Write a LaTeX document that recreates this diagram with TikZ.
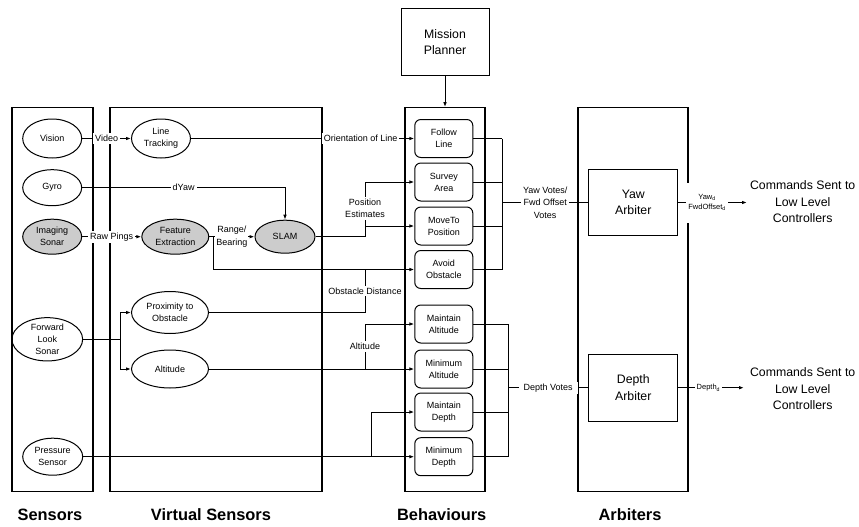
\documentclass[tikz,border=0pt]{standalone}
\usepackage{fontspec}
\setmainfont{Liberation Sans}
\usetikzlibrary{shapes.geometric,arrows.meta,calc}

\begin{document}
\begin{tikzpicture}[x=1pt,y=-1pt,
  colbox/.style={draw,line width=1.1pt,minimum width=#1,minimum height=384,inner sep=0pt},
  sens/.style={ellipse,draw,line width=1pt,inner sep=0pt,align=center,
    font=\fontsize{9}{12}\selectfont},
  sensgray/.style={sens,fill=black!20},
  behbox/.style={draw,line width=1pt,rounded corners=6pt,minimum width=58,
    minimum height=38,inner sep=0pt,align=center,font=\fontsize{9}{12}\selectfont},
  bigbox/.style={draw,line width=1pt,minimum width=88.7,minimum height=66,
    inner sep=0pt,align=center,font=\fontsize{12.3}{16.4}\selectfont},
  conn/.style={line width=1pt},
  arr/.style={conn,-{Latex[length=5pt,width=3.6pt]}},
  lab/.style={fill=white,inner sep=2pt,align=center,font=\fontsize{9}{12.3}\selectfont},
  title/.style={font=\fontsize{16.4}{20}\selectfont\bfseries},
  cmd/.style={align=center,font=\fontsize{12.3}{16.6}\selectfont}]

\fill[white] (0,0) rectangle (859,527);
\useasboundingbox (0,0) rectangle (859,527);

% column frames
\node[colbox=81]  (senscol) at (52.5,299.7) {};
\node[colbox=212] (virtcol) at (216,299.7) {};
\node[colbox=80]  (behcol)  at (445,299.7) {};
\node[colbox=110] (arbcol)  at (633,299.7) {};

% column titles
\node[title] (tsens) at (50,515) {Sensors};
\node[title] (tvirt) at (211,515) {Virtual Sensors};
\node[title] (tbeh)  at (441.7,515) {Behaviours};
\node[title] (tarb)  at (630,515) {Arbiters};

% mission planner
\node[bigbox,minimum width=88] (mp) at (445,42) {Mission\\Planner};

% sensors
\node[sens,minimum width=59,minimum height=39] (vision) at (52.2,138.5) {Vision};
\node[sens,minimum width=59,minimum height=36] (gyro)   at (52.2,187.7) {Gyro};
\node[sensgray,minimum width=59,minimum height=35] (isonar) at (52.2,236.7) {Imaging\\Sonar};
\node[sens,minimum width=70.7,minimum height=38] (fls) at (47.3,339.3) {Forward\\Look\\Sonar};
\node[sens,minimum width=60,minimum height=37] (ps) at (52.7,456.7) {Pressure\\Sensor};

% virtual sensors
\node[sens,minimum width=59,minimum height=39] (lt) at (161,138.5) {Line\\Tracking};
\node[sensgray,minimum width=67,minimum height=35] (fe) at (175.3,236.7) {Feature\\Extraction};
\node[sensgray,minimum width=60,minimum height=33] (slam) at (285,236.7) {SLAM};
\node[sens,minimum width=77,minimum height=42] (prox) at (170,312.5) {Proximity to\\Obstacle};
\node[sens,minimum width=77,minimum height=38] (alt) at (170,369) {Altitude};

% behaviours
\node[behbox] (fl)    at (443.8,138.5) {Follow\\Line};
\node[behbox] (sa)    at (443.8,182)   {Survey\\Area};
\node[behbox] (mt)    at (443.8,226)   {MoveTo\\Position};
\node[behbox] (ao)    at (443.8,269.5) {Avoid\\Obstacle};
\node[behbox] (maina) at (443.8,324)   {Maintain\\Altitude};
\node[behbox] (mina)  at (443.8,369)   {Minimum\\Altitude};
\node[behbox] (maind) at (443.8,412)   {Maintain\\Depth};
\node[behbox] (mind)  at (443.8,456.7) {Minimum\\Depth};

% arbiters
\node[bigbox] (ya) at (633.3,202.5) {Yaw\\Arbiter};
\node[bigbox,minimum height=67] (da) at (633.3,387.7) {Depth\\Arbiter};

% outputs
\node[cmd] (cmd1) at (802.7,202) {Commands Sent to\\Low Level\\Controllers};
\node[cmd] (cmd2) at (802.7,388.6) {Commands Sent to\\Low Level\\Controllers};
\coordinate (yout) at (747,202.5);
\coordinate (dout) at (744,387.7);

% junction columns
\coordinate (jf) at (120,0);
\coordinate (jx) at (365,0);
\coordinate (jd) at (371,0);
\coordinate (yb) at (502,0);
\coordinate (db) at (508,0);

% mission planner to behaviours
\draw[arr] (mp.south) -- (behcol.north);

% sensor links
\draw[arr] (vision.east) -- node[lab]{Video} (lt.west);
\draw[arr] (gyro.east) -| node[lab,pos=0.25]{dYaw} (slam.north);
\draw[arr] (isonar.east) -- node[lab]{Raw Pings} (fe.west);
\draw[arr] (fe.east) -- node[lab,inner sep=1pt]{Range/\\Bearing} (slam.west);
\draw[arr] (fe.east) -- ++(4,0) |- (ao.west);
\draw[conn] (prox.east) -| node[lab,pos=0.75]{Obstacle Distance} (ao.west -| jx);
\draw[arr] (lt.east) -- node[lab,pos=0.76]{Orientation of Line} (fl.west);
\draw[arr] (slam.east) -| (mt.west -| jx) -- (mt.west);
\draw[arr] (mt.west -| jx) -- node[lab,pos=0.4]{Position\\Estimates} (sa.west -| jx) -- (sa.west);
\draw[arr] (fls.east) -- (fls.east -| jf) |- (prox.west);
\draw[arr] (fls.east -| jf) |- (alt.west);
\draw[arr] (alt.east) -- (mina.west);
\draw[arr] (mina.west -| jx) -- node[lab]{Altitude} (maina.west -| jx) -- (maina.west);
\draw[arr] (ps.east) -- (mind.west);
\draw[arr] (mind.west -| jd) |- (maind.west);

% yaw votes
\foreach \b in {fl,sa,mt,ao} \draw[conn] (\b.east) -- (\b.east -| yb);
\draw[conn] (fl.east -| yb) -- (ao.east -| yb);
\draw[conn] (ya.west -| yb) -- node[lab]{Yaw Votes/\\Fwd Offset\\Votes} (ya.west);

% depth votes
\foreach \b in {maina,mina,maind,mind} \draw[conn] (\b.east) -- (\b.east -| db);
\draw[conn] (maina.east -| db) -- (mind.east -| db);
\draw[conn] (da.west -| db) -- node[lab,inner xsep=5pt]{Depth Votes} (da.west);

% arbiter outputs
\draw[arr] (ya.east) -- node[lab,pos=0.42,minimum height=40,
  font=\fontsize{7.5}{10}\selectfont]{Yaw\textsubscript{d}\\FwdOffset\textsubscript{d}} (yout);
\draw[arr] (da.east) -- node[lab,pos=0.46,font=\fontsize{7.5}{10}\selectfont]{Depth\textsubscript{d}} (dout);
\end{tikzpicture}
\end{document}
